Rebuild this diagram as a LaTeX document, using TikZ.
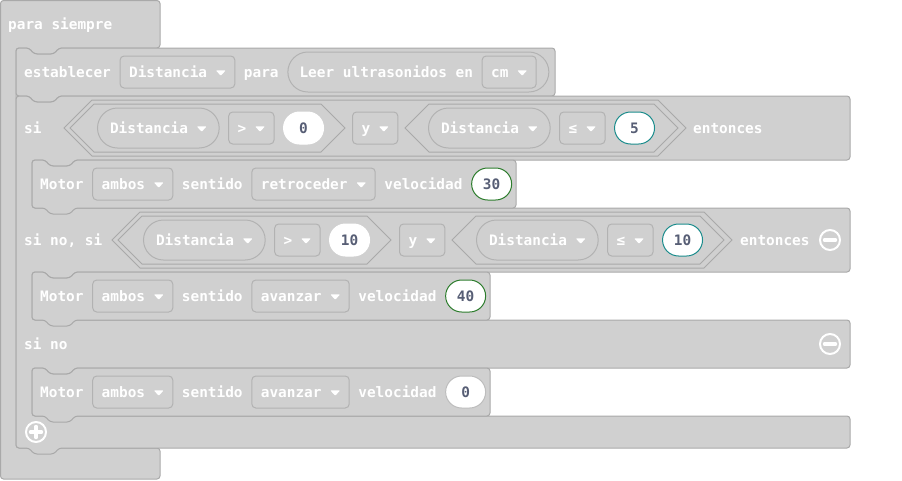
\documentclass[tikz,border=0pt]{standalone}
\usepackage{fontspec}
\usepackage{tikz}
\usetikzlibrary{positioning}
\newfontfamily\blockfont{DejaVu Sans Mono}
\definecolor{blockfill}{HTML}{D0D0D0}
\definecolor{blockline}{HTML}{A9A9A9}
\definecolor{fieldline}{HTML}{B2B2B2}
\definecolor{numtext}{HTML}{575E75}
\definecolor{numline}{HTML}{BDBDBD}
\definecolor{greenline}{HTML}{2D7D2D}
\definecolor{tealline}{HTML}{1B8C8C}
\newcommand{\dn}{\tikz[baseline=0pt]\fill[white,rounded corners=1pt] (0pt,7pt) -- (10pt,7pt) -- (5pt,1.5pt) -- cycle;}
\newcommand{\stmtshape}[4]{%
  \draw[block] (#1,#2) -- ({#1+13},#2) -- ({#1+18},{#2+6}) -- ({#1+38},{#2+6}) -- ({#1+43},#2) -- (#3,#2) -- (#3,#4) -- ({#1+43},#4) -- ({#1+38},{#4+6}) -- ({#1+18},{#4+6}) -- ({#1+13},#4) -- (#1,#4) -- cycle;}
\tikzset{
  block/.style={draw=blockline, fill=blockfill, line width=1pt, rounded corners=3pt},
  hexa/.style={draw=blockline, fill=blockfill, line width=1pt},
  lbl/.style={inner sep=0pt, text height=10.5pt, text depth=0pt},
  dd/.style={lbl, draw=fieldline, fill=blockfill, line width=1pt, rounded corners=4pt, inner xsep=9pt, minimum height=32pt},
  var/.style={lbl, draw=fieldline, fill=blockfill, line width=1pt, rounded corners=20pt, inner xsep=12.5pt, minimum height=40pt},
  num/.style={lbl, fill=white, draw=white, line width=1pt, rounded corners=16pt, minimum width=40pt, minimum height=32pt, text=numtext},
  icon/.style={white, line width=2pt}
}
\begin{document}
\begin{tikzpicture}[x=1pt, y=-1pt, node distance=8.5pt,
    every node/.style={font=\blockfont\bfseries\fontsize{14.4}{17}\selectfont, text=white}]
  \useasboundingbox (0,0) rectangle (902,480);
  \draw[block] (0.5,0.5) -- (160,0.5) -- (160,48) -- (59,48) -- (54,54) -- (34,54) -- (29,48) -- (16,48) -- (16,448) -- (160,448) -- (160,479) -- (0.5,479) -- cycle;
  \stmtshape{16}{48}{555}{96}
  \draw[block] (16,96) -- (29,96) -- (34,102) -- (54,102) -- (59,96) -- (850,96) -- (850,160)
    -- (75,160) -- (70,166) -- (50,166) -- (45,160) -- (32,160) -- (32,208) -- (850,208) -- (850,272)
    -- (75,272) -- (70,278) -- (50,278) -- (45,272) -- (32,272) -- (32,320) -- (850,320) -- (850,368)
    -- (75,368) -- (70,374) -- (50,374) -- (45,368) -- (32,368) -- (32,416) -- (850,416) -- (850,448)
    -- (59,448) -- (54,454) -- (34,454) -- (29,448) -- (16,448) -- cycle;
  \stmtshape{32}{160}{516}{208}
  \stmtshape{32}{272}{490}{320}
  \stmtshape{32}{368}{490}{416}

  \node[lbl, anchor=west] (forever) at (8,24) {para siempre};

  \node[lbl, anchor=west] (setto) at (24,72) {establecer};
  \node[dd, right=of setto] (setvar) {Distancia \dn};
  \node[lbl, right=of setvar] (para) {para};
  \node[var, right=of para, minimum width=261pt] (sonar) {};
  \node[lbl, right=12pt of sonar.west] (leer) {Leer ultrasonidos en};
  \node[dd, right=of leer] (unit) {cm \dn};

  \node[lbl, anchor=west] (si) at (24,128) {si};
  \draw[hexa] (64,128) -- (92,100) -- (658,100) -- (686,128) -- (658,156) -- (92,156) -- cycle;
  \draw[hexa] (70,128) -- (94,104) -- (321,104) -- (345,128) -- (321,152) -- (94,152) -- cycle;
  \draw[hexa] (405,128) -- (429,104) -- (654,104) -- (678,128) -- (654,152) -- (429,152) -- cycle;
  \node[var, anchor=west] (dist1) at (97,128) {Distancia \dn};
  \node[dd, right=of dist1] (gt1) {> \dn};
  \node[num, right=of gt1] (zero1) {0};
  \node[dd, anchor=west] (and1) at (352,128) {y \dn};
  \node[var, anchor=west] (dist2) at (428,128) {Distancia \dn};
  \node[dd, right=of dist2] (le1) {≤ \dn};
  \node[num, draw=tealline, right=of le1] (five) {5};
  \node[lbl, anchor=west] (then1) at (693,128) {entonces};

  \node[lbl, anchor=west] (motor1) at (40,184) {Motor};
  \node[dd, right=of motor1] (both1) {ambos \dn};
  \node[lbl, right=of both1] (dir1) {sentido};
  \node[dd, right=of dir1] (back1) {retroceder \dn};
  \node[lbl, right=of back1] (speed1) {velocidad};
  \node[num, draw=greenline, right=of speed1] (thirty) {30};

  \node[lbl, anchor=west] (elif) at (24,240) {si no, si};
  \draw[hexa] (112,240) -- (140,212) -- (704,212) -- (732,240) -- (704,268) -- (140,268) -- cycle;
  \draw[hexa] (118,240) -- (142,216) -- (367,216) -- (391,240) -- (367,264) -- (142,264) -- cycle;
  \draw[hexa] (452,240) -- (476,216) -- (700,216) -- (724,240) -- (700,264) -- (476,264) -- cycle;
  \node[var, anchor=west] (dist3) at (143,240) {Distancia \dn};
  \node[dd, right=of dist3] (gt2) {> \dn};
  \node[num, right=of gt2] (ten1) {10};
  \node[dd, anchor=west] (and2) at (399,240) {y \dn};
  \node[var, anchor=west] (dist4) at (476,240) {Distancia \dn};
  \node[dd, right=of dist4] (le2) {≤ \dn};
  \node[num, draw=tealline, right=of le2] (ten2) {10};
  \node[lbl, anchor=west] (then2) at (740,240) {entonces};
  \draw[icon] (830,240) circle (10);
  \draw[icon, line width=3.5pt, line cap=round] (824.5,240) -- (835.5,240);

  \node[lbl, anchor=west] (motor2) at (40,296) {Motor};
  \node[dd, right=of motor2] (both2) {ambos \dn};
  \node[lbl, right=of both2] (dir2) {sentido};
  \node[dd, right=of dir2] (fwd2) {avanzar \dn};
  \node[lbl, right=of fwd2] (speed2) {velocidad};
  \node[num, draw=greenline, right=of speed2] (forty) {40};

  \node[lbl, anchor=west] (else) at (24,344) {si no};
  \draw[icon] (830,344) circle (10);
  \draw[icon, line width=3.5pt, line cap=round] (824.5,344) -- (835.5,344);

  \node[lbl, anchor=west] (motor3) at (40,392) {Motor};
  \node[dd, right=of motor3] (both3) {ambos \dn};
  \node[lbl, right=of both3] (dir3) {sentido};
  \node[dd, right=of dir3] (fwd3) {avanzar \dn};
  \node[lbl, right=of fwd3] (speed3) {velocidad};
  \node[num, draw=numline, right=of speed3] (zero2) {0};

  \draw[icon] (36,432) circle (10);
  \draw[icon, line width=3.5pt, line cap=round] (30.5,432) -- (41.5,432) (36,426.5) -- (36,437.5);
\end{tikzpicture}
\end{document}
